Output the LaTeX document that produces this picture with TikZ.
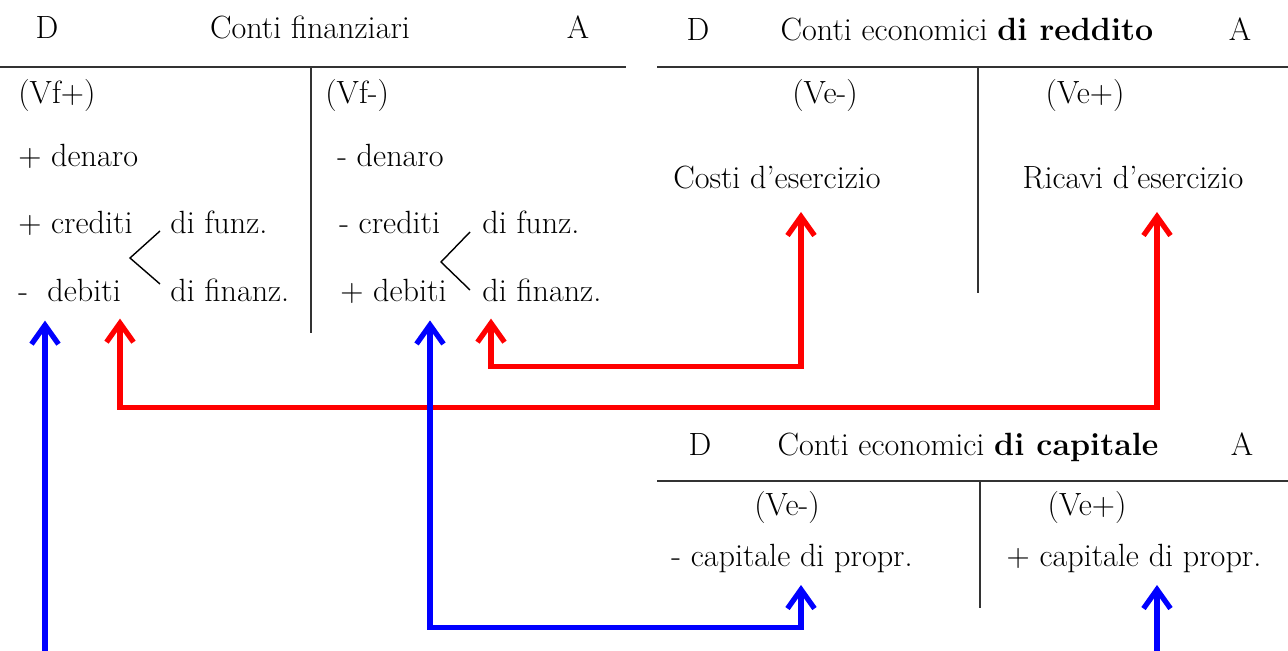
\documentclass[tikz,border=0pt]{standalone}
\usetikzlibrary{arrows.meta,calc}

\begin{document}
\begin{tikzpicture}[x=0.02cm,y=0.02cm,
  txt/.style={font=\fontsize{18.3}{21}\selectfont,inner sep=0pt,anchor=base west},
  ctxt/.style={txt,anchor=base},
  rule/.style={black!80,line width=0.7pt},
  >={Straight Barb[length=3.8mm,width=5.4mm]},
  redarr/.style={red,line width=3pt},
  bluearr/.style={blue,line width=3pt}]
\useasboundingbox (0,0) rectangle (1288,-651);

% conti finanziari
\node[ctxt] (D1) at (47,-39) {D};
\node[ctxt] (tit1) at (310,-39) {Conti finanziari};
\node[ctxt] (A1) at (578,-39) {A};
\draw[rule] (0,-67) -- (626,-67);
\draw[rule] (311,-67) -- (311,-333);
\node[txt] (vfp) at (18,-104) {(Vf+)};
\node[txt] (denP) at (18,-167) {+ denaro};
\node[txt] (credP) at (18,-234) {+ crediti};
\node[txt] (debM) at (18,-302) {-\ \ debiti};
\node[txt] (funzL) at (170,-234) {di funz.};
\node[txt] (finL) at (170,-302) {di finanz.};
\draw[black,line width=0.8pt] (160,-231) -- (130,-258) -- (160,-284);
\node[txt] (vfm) at (325,-104) {(Vf-)};
\node[txt] (denM) at (337,-167) {- denaro};
\node[txt] (credM) at (339,-234) {- crediti};
\node[txt] (debP) at (340,-302) {+ debiti};
\node[txt] (funzR) at (482,-234) {di funz.};
\node[txt] (finR) at (482,-302) {di finanz.};
\draw[black,line width=0.8pt] (470,-232) -- (441,-262) -- (470,-290);

% conti economici di reddito
\node[ctxt] (D2) at (698,-41) {D};
\node[ctxt] (tit2) at (967,-41) {Conti economici \textbf{di reddito}};
\node[ctxt] (A2) at (1240,-41) {A};
\draw[rule] (657,-67) -- (1288,-67);
\draw[rule] (978,-67) -- (978,-293);
\node[ctxt] (veM1) at (825,-104) {(Ve-)};
\node[ctxt] (veP1) at (1085,-104) {(Ve+)};
\node[ctxt] (costi) at (777,-189) {Costi d'esercizio};
\node[ctxt] (ricavi) at (1133,-189) {Ricavi d'esercizio};

% conti economici di capitale
\node[ctxt] (D3) at (700,-456) {D};
\node[ctxt] (tit3) at (968,-456) {Conti economici \textbf{di capitale}};
\node[ctxt] (A3) at (1242,-456) {A};
\draw[rule] (657,-481) -- (1288,-481);
\draw[rule] (980,-481) -- (980,-608);
\node[ctxt] (veM2) at (787,-516) {(Ve-)};
\node[ctxt] (veP2) at (1087,-516) {(Ve+)};
\node[ctxt] (capM) at (792,-566) {- capitale di propr.};
\node[ctxt] (capP) at (1134,-566) {+ capitale di propr.};

% arrows
\coordinate (b0) at (45,-651);
\coordinate (b1) at (1157,-651);
\draw[redarr,<->] ($(finR.south west)+(9,-16)$) -- ++(0,-48) -| ($(costi.base)+(24,-23)$);
\draw[redarr,<->] ($(debM.south west)+(102,-16)$) -- ++(0,-89) -| ($(ricavi.base)+(24,-23)$);
\draw[bluearr,->] (b0) -- ($(debM.south west)+(27,-18)$);
\draw[bluearr,<->] ($(debP.south west)+(90,-16)$) -- ++(0,-307) -| ($(capM.base)+(9,-19)$);
\draw[bluearr,->] (b1) -- ($(capP.base)+(23,-19)$);
\end{tikzpicture}
\end{document}
